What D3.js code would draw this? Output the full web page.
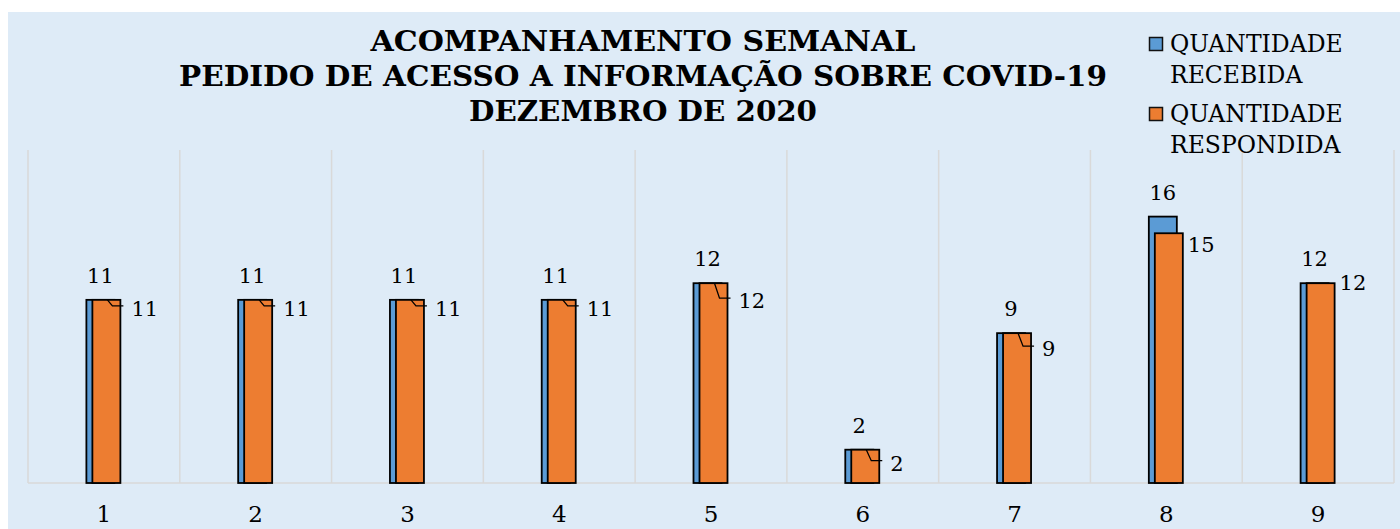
<!DOCTYPE html>
<html><head><meta charset="utf-8">
<script src="https://cdn.jsdelivr.net/npm/d3@7"></script>
<style>body{margin:0;background:#fff;} svg{display:block}</style>
</head><body><svg id="c" width="1400" height="529"></svg>
<script>
// ---- data ----
const categories = ["1","2","3","4","5","6","7","8","9"];
const recebida   = [11,11,11,11,12,2,9,16,12];
const respondida = [11,11,11,11,12,2,9,15,12];
const seriesNames = [["QUANTIDADE","RECEBIDA"],["QUANTIDADE","RESPONDIDA"]];
const titleLines = ["ACOMPANHAMENTO SEMANAL","PEDIDO DE ACESSO A INFORMAÇÃO SOBRE COVID-19","DEZEMBRO DE 2020"];
const yDomain = [0, 20];

// ---- layout / style (not data) ----
const respLabelDy = [9,9,9,9,18,14,16,12,0];      // manually dragged labels in original
const respLeader  = [true,true,true,true,true,true,true,false,false];
const titleWidths = [545, 928, 348];
const colors = ["#5B9BD5","#ED7D31"];
const FONT = "'DejaVu Serif', Georgia, serif";

const svg = d3.select("#c");
svg.append("rect").attr("x",8).attr("y",12).attr("width",1392).attr("height",517).attr("fill","#DEEBF7");

const plot = {left:28, right:1394, top:150, bottom:483};
const x = d3.scaleBand().domain(categories).range([plot.left, plot.right]).padding(0);
const y = d3.scaleLinear().domain(yDomain).range([plot.bottom, plot.top]);

// gridlines (vertical, at band boundaries)
const bounds = categories.map(c => x(c)).concat([plot.right]);
svg.append("g").selectAll("line").data(bounds).join("line")
  .attr("x1",d=>d).attr("x2",d=>d).attr("y1",plot.top).attr("y2",plot.bottom)
  .attr("stroke","#D9D9D9").attr("stroke-width",1.5);
svg.append("line").attr("x1",plot.left).attr("x2",plot.right).attr("y1",plot.bottom).attr("y2",plot.bottom)
  .attr("stroke","#D9D9D9").attr("stroke-width",1.5);

const bw = 28;
const cx = c => x(c) + x.bandwidth()/2;
const xBlue = c => cx(c) - 17.5;
const xOr = c => cx(c) - 11.5;

const rows = categories.map((c,i)=>({c,i,r:recebida[i],s:respondida[i]}));

// bars
svg.append("g").selectAll("rect").data(rows).join("rect")
  .attr("x",d=>xBlue(d.c)).attr("width",bw)
  .attr("y",d=>y(d.r)).attr("height",d=>y(0)-y(d.r))
  .attr("fill",colors[0]).attr("stroke","#000").attr("stroke-width",1.8);
svg.append("g").selectAll("rect").data(rows).join("rect")
  .attr("x",d=>xOr(d.c)).attr("width",bw)
  .attr("y",d=>y(d.s)).attr("height",d=>y(0)-y(d.s))
  .attr("fill",colors[1]).attr("stroke","#000").attr("stroke-width",1.8);

// blue labels
svg.append("g").selectAll("text").data(rows).join("text")
  .attr("x",d=>xBlue(d.c)+bw/2).attr("y",d=>y(d.r)-24)
  .attr("text-anchor","middle").attr("dominant-baseline","central")
  .attr("font-family",FONT).attr("font-size",21).attr("fill","#000")
  .text(d=>d.r);

// orange labels + leader lines
const lg = svg.append("g");
rows.forEach(d=>{
  const top = y(d.s), right = xOr(d.c)+bw, dy = respLabelDy[d.i];
  const lead = respLeader[d.i];
  if (lead) {
    const by = top + dy - 3, bx = right - 8;
    lg.append("path").attr("d",`M${bx-5},${top}L${bx},${by}L${right+3},${by}`)
      .attr("fill","none").attr("stroke","#000").attr("stroke-width",1.3);
  }
  lg.append("text").attr("x", right + (lead?11:5)).attr("y", top+dy)
    .attr("dominant-baseline","central")
    .attr("font-family",FONT).attr("font-size",21).attr("fill","#000")
    .text(d.s);
});

// x axis labels
const ax = svg.append("g").attr("transform",`translate(0,${plot.bottom})`)
  .call(d3.axisBottom(x).tickSize(0).tickPadding(23));
ax.select(".domain").remove();
ax.selectAll("text").attr("font-family",FONT).attr("font-size",23).attr("fill","#000");

// title
svg.append("g").selectAll("text").data(titleLines).join("text")
  .attr("x",643).attr("y",(d,i)=>51+i*35)
  .attr("text-anchor","middle").attr("font-family",FONT).attr("font-weight","bold")
  .attr("font-size",27).attr("textLength",(d,i)=>titleWidths[i]).attr("lengthAdjust","spacingAndGlyphs")
  .attr("fill","#000").text(d=>d);

// legend
const leg = svg.append("g");
seriesNames.forEach((lines,i)=>{
  const y0 = 37 + i*70;
  leg.append("rect").attr("x",1149.5).attr("y",y0+0.5).attr("width",13).attr("height",13)
    .attr("fill",colors[i]).attr("stroke","#111").attr("stroke-width",1.5);
  lines.forEach((t,j)=>{
    leg.append("text").attr("x",1170).attr("y",y0+15+j*31)
      .attr("font-family",FONT).attr("font-size",23.5).attr("fill","#000").text(t);
  });
});
</script></body></html>
